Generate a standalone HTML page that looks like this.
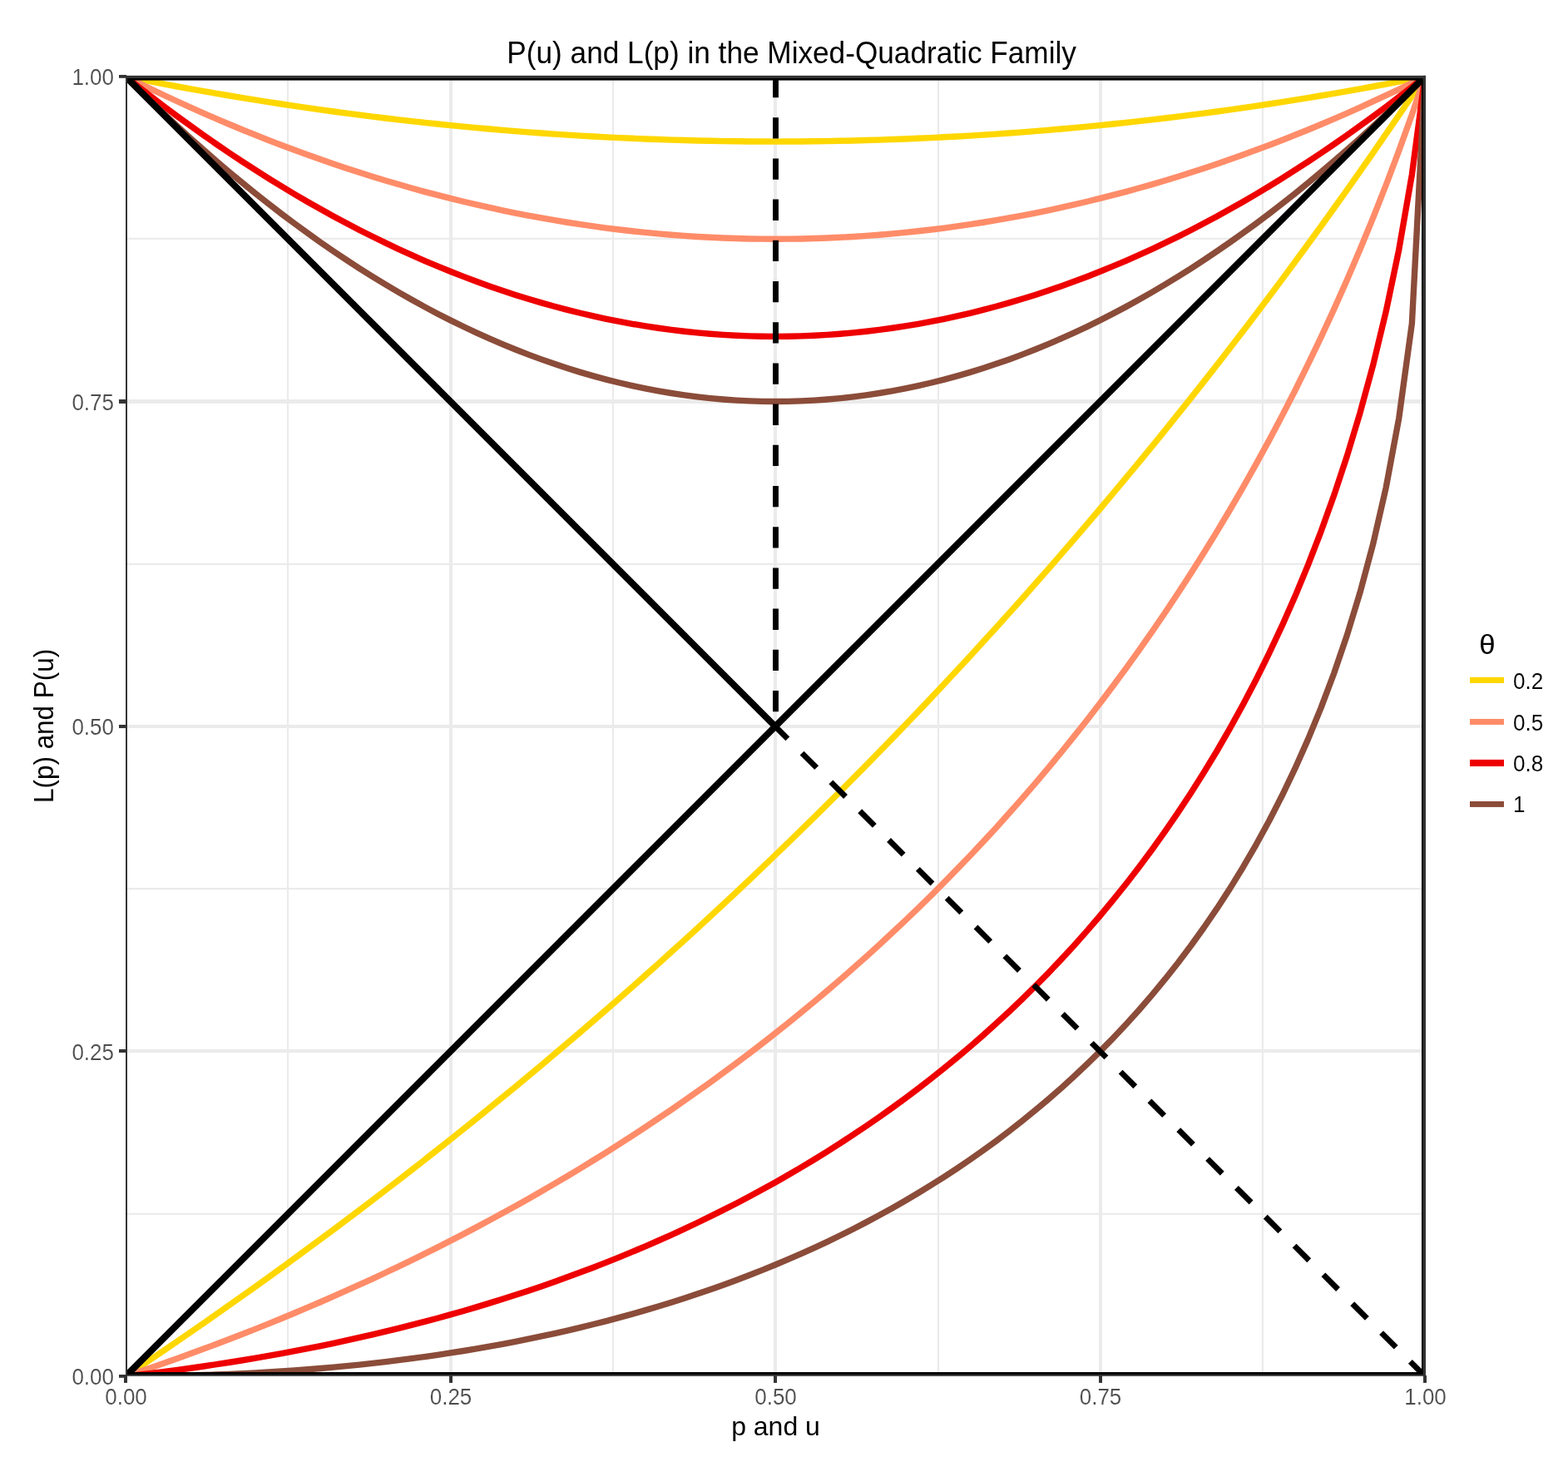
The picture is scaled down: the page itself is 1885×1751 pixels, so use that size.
<!DOCTYPE html>
<html lang="en"><head><meta charset="utf-8">
<title>P(u) and L(p) in the Mixed-Quadratic Family</title>
<style>
html,body{margin:0;padding:0;background:#fff;}
body{width:1885px;height:1751px;overflow:hidden;}
svg{display:block;}
text{font-family:"Liberation Sans",sans-serif;}
.tk{font-size:26.4px;fill:#4D4D4D;stroke:#fff;stroke-width:0.15px;}
.ax{font-size:32px;fill:#000;}
.ti{font-size:35.2px;fill:#000;}
.lg{font-size:26.4px;fill:#000;stroke:#fff;stroke-width:0.12px;}
.lt{font-size:32px;fill:#000;}
</style></head><body>
<svg width="1885" height="1751" viewBox="0 0 1885 1751">
<rect x="0" y="0" width="1885" height="1751" fill="#fff"/>
<defs><clipPath id="panel"><rect x="152" y="92" width="1561.00" height="1561.00"/></clipPath></defs>
<g clip-path="url(#panel)">
<g fill="#EBEBEB" stroke="none">
<rect x="344.90" y="92.00" width="2.20" height="1562.00"/>
<rect x="735.90" y="92.00" width="2.20" height="1562.00"/>
<rect x="1126.90" y="92.00" width="2.20" height="1562.00"/>
<rect x="1516.80" y="92.00" width="2.20" height="1562.00"/>
<rect x="151.00" y="1457.85" width="1562.00" height="2.20"/>
<rect x="151.00" y="1066.95" width="1562.00" height="2.20"/>
<rect x="151.00" y="676.85" width="1562.00" height="2.20"/>
<rect x="151.00" y="285.70" width="1562.00" height="2.20"/>
<rect x="149.00" y="92.00" width="4.00" height="1562.00"/>
<rect x="540.05" y="92.00" width="3.95" height="1562.00"/>
<rect x="930.00" y="92.00" width="4.00" height="1562.00"/>
<rect x="1321.05" y="92.00" width="3.95" height="1562.00"/>
<rect x="1711.00" y="92.00" width="4.00" height="1562.00"/>
<rect x="151.00" y="1652.00" width="1562.00" height="3.80"/>
<rect x="151.00" y="1261.00" width="1562.00" height="4.05"/>
<rect x="151.00" y="871.00" width="1562.00" height="4.05"/>
<rect x="151.00" y="480.00" width="1562.00" height="4.95"/>
<rect x="151.00" y="90.00" width="1562.00" height="3.80"/>
</g>
<g fill="none" stroke-width="7.40" stroke-linejoin="round" stroke-linecap="butt">
<path d="M151.00 1654.00 L166.62 1643.55 L182.24 1633.03 L197.86 1622.43 L213.48 1611.76 L229.10 1601.02 L244.72 1590.20 L260.34 1579.30 L275.96 1568.33 L291.58 1557.28 L307.20 1546.15 L322.82 1534.94 L338.44 1523.65 L354.06 1512.28 L369.68 1500.84 L385.30 1489.31 L400.92 1477.69 L416.54 1466.00 L432.16 1454.22 L447.78 1442.36 L463.40 1430.41 L479.02 1418.37 L494.64 1406.25 L510.26 1394.04 L525.88 1381.74 L541.50 1369.35 L557.12 1356.87 L572.74 1344.30 L588.36 1331.63 L603.98 1318.88 L619.60 1306.03 L635.22 1293.08 L650.84 1280.04 L666.46 1266.90 L682.08 1253.66 L697.70 1240.33 L713.32 1226.89 L728.94 1213.35 L744.56 1199.72 L760.18 1185.97 L775.80 1172.13 L791.42 1158.18 L807.04 1144.12 L822.66 1129.95 L838.28 1115.68 L853.90 1101.29 L869.52 1086.79 L885.14 1072.18 L900.76 1057.46 L916.38 1042.62 L932.00 1027.67 L947.62 1012.60 L963.24 997.40 L978.86 982.09 L994.48 966.66 L1010.10 951.10 L1025.72 935.42 L1041.34 919.61 L1056.96 903.67 L1072.58 887.60 L1088.20 871.41 L1103.82 855.08 L1119.44 838.61 L1135.06 822.01 L1150.68 805.27 L1166.30 788.39 L1181.92 771.37 L1197.54 754.20 L1213.16 736.89 L1228.78 719.44 L1244.40 701.83 L1260.02 684.07 L1275.64 666.16 L1291.26 648.09 L1306.88 629.87 L1322.50 611.48 L1338.12 592.94 L1353.74 574.22 L1369.36 555.35 L1384.98 536.30 L1400.60 517.08 L1416.22 497.68 L1431.84 478.11 L1447.46 458.36 L1463.08 438.42 L1478.70 418.30 L1494.32 397.99 L1509.94 377.49 L1525.56 356.79 L1541.18 335.90 L1556.80 314.80 L1572.42 293.51 L1588.04 272.00 L1603.66 250.28 L1619.28 228.34 L1634.90 206.19 L1650.52 183.81 L1666.14 161.21 L1681.76 138.38 L1697.38 115.31 L1713.00 92.00" stroke="#FFD700"/>
<path d="M151.00 1654.00 L166.62 1648.75 L182.24 1643.40 L197.86 1637.96 L213.48 1632.42 L229.10 1626.78 L244.72 1621.05 L260.34 1615.21 L275.96 1609.27 L291.58 1603.23 L307.20 1597.09 L322.82 1590.83 L338.44 1584.47 L354.06 1578.00 L369.68 1571.42 L385.30 1564.73 L400.92 1557.92 L416.54 1550.99 L432.16 1543.95 L447.78 1536.79 L463.40 1529.50 L479.02 1522.09 L494.64 1514.55 L510.26 1506.89 L525.88 1499.09 L541.50 1491.16 L557.12 1483.10 L572.74 1474.90 L588.36 1466.56 L603.98 1458.08 L619.60 1449.45 L635.22 1440.68 L650.84 1431.75 L666.46 1422.67 L682.08 1413.44 L697.70 1404.05 L713.32 1394.49 L728.94 1384.78 L744.56 1374.89 L760.18 1364.83 L775.80 1354.59 L791.42 1344.18 L807.04 1333.58 L822.66 1322.80 L838.28 1311.83 L853.90 1300.66 L869.52 1289.29 L885.14 1277.72 L900.76 1265.94 L916.38 1253.95 L932.00 1241.74 L947.62 1229.30 L963.24 1216.64 L978.86 1203.74 L994.48 1190.60 L1010.10 1177.22 L1025.72 1163.58 L1041.34 1149.68 L1056.96 1135.51 L1072.58 1121.07 L1088.20 1106.35 L1103.82 1091.33 L1119.44 1076.02 L1135.06 1060.40 L1150.68 1044.46 L1166.30 1028.20 L1181.92 1011.60 L1197.54 994.65 L1213.16 977.34 L1228.78 959.65 L1244.40 941.59 L1260.02 923.12 L1275.64 904.24 L1291.26 884.93 L1306.88 865.18 L1322.50 844.96 L1338.12 824.27 L1353.74 803.07 L1369.36 781.35 L1384.98 759.08 L1400.60 736.25 L1416.22 712.82 L1431.84 688.76 L1447.46 664.05 L1463.08 638.65 L1478.70 612.52 L1494.32 585.63 L1509.94 557.92 L1525.56 529.36 L1541.18 499.89 L1556.80 469.44 L1572.42 437.96 L1588.04 405.38 L1603.66 371.60 L1619.28 336.54 L1634.90 300.08 L1650.52 262.12 L1666.14 222.51 L1681.76 181.09 L1697.38 137.66 L1713.00 92.00" stroke="#FF8C69"/>
<path d="M151.00 1654.00 L166.62 1652.22 L182.24 1650.36 L197.86 1648.40 L213.48 1646.36 L229.10 1644.22 L244.72 1642.00 L260.34 1639.68 L275.96 1637.26 L291.58 1634.75 L307.20 1632.13 L322.82 1629.42 L338.44 1626.61 L354.06 1623.69 L369.68 1620.67 L385.30 1617.54 L400.92 1614.30 L416.54 1610.95 L432.16 1607.48 L447.78 1603.91 L463.40 1600.21 L479.02 1596.40 L494.64 1592.46 L510.26 1588.40 L525.88 1584.22 L541.50 1579.90 L557.12 1575.46 L572.74 1570.88 L588.36 1566.16 L603.98 1561.31 L619.60 1556.31 L635.22 1551.17 L650.84 1545.88 L666.46 1540.44 L682.08 1534.84 L697.70 1529.08 L713.32 1523.17 L728.94 1517.08 L744.56 1510.83 L760.18 1504.40 L775.80 1497.80 L791.42 1491.01 L807.04 1484.04 L822.66 1476.88 L838.28 1469.52 L853.90 1461.95 L869.52 1454.18 L885.14 1446.20 L900.76 1438.00 L916.38 1429.58 L932.00 1420.92 L947.62 1412.03 L963.24 1402.89 L978.86 1393.49 L994.48 1383.84 L1010.10 1373.92 L1025.72 1363.72 L1041.34 1353.23 L1056.96 1342.45 L1072.58 1331.36 L1088.20 1319.95 L1103.82 1308.21 L1119.44 1296.13 L1135.06 1283.70 L1150.68 1270.90 L1166.30 1257.71 L1181.92 1244.12 L1197.54 1230.11 L1213.16 1215.67 L1228.78 1200.77 L1244.40 1185.40 L1260.02 1169.53 L1275.64 1153.13 L1291.26 1136.18 L1306.88 1118.64 L1322.50 1100.50 L1338.12 1081.70 L1353.74 1062.21 L1369.36 1042.00 L1384.98 1021.00 L1400.60 999.17 L1416.22 976.45 L1431.84 952.77 L1447.46 928.06 L1463.08 902.22 L1478.70 875.17 L1494.32 846.78 L1509.94 816.92 L1525.56 785.44 L1541.18 752.14 L1556.80 716.80 L1572.42 679.14 L1588.04 638.81 L1603.66 595.37 L1619.28 548.23 L1634.90 496.58 L1650.52 439.31 L1666.14 374.69 L1681.76 299.92 L1697.38 209.79 L1713.00 92.00" stroke="#EE0000"/>
<path d="M151.00 1654.00 L166.62 1653.96 L182.24 1653.84 L197.86 1653.64 L213.48 1653.36 L229.10 1653.00 L244.72 1652.55 L260.34 1652.02 L275.96 1651.40 L291.58 1650.69 L307.20 1649.89 L322.82 1649.00 L338.44 1648.01 L354.06 1646.93 L369.68 1645.76 L385.30 1644.49 L400.92 1643.11 L416.54 1641.64 L432.16 1640.06 L447.78 1638.38 L463.40 1636.59 L479.02 1634.69 L494.64 1632.68 L510.26 1630.56 L525.88 1628.32 L541.50 1625.96 L557.12 1623.49 L572.74 1620.89 L588.36 1618.16 L603.98 1615.31 L619.60 1612.33 L635.22 1609.21 L650.84 1605.96 L666.46 1602.56 L682.08 1599.03 L697.70 1595.35 L713.32 1591.52 L728.94 1587.54 L744.56 1583.40 L760.18 1579.10 L775.80 1574.64 L791.42 1570.01 L807.04 1565.21 L822.66 1560.23 L838.28 1555.07 L853.90 1549.72 L869.52 1544.18 L885.14 1538.45 L900.76 1532.51 L916.38 1526.36 L932.00 1520.00 L947.62 1513.42 L963.24 1506.61 L978.86 1499.57 L994.48 1492.28 L1010.10 1484.74 L1025.72 1476.95 L1041.34 1468.88 L1056.96 1460.54 L1072.58 1451.92 L1088.20 1442.99 L1103.82 1433.76 L1119.44 1424.20 L1135.06 1414.32 L1150.68 1404.08 L1166.30 1393.48 L1181.92 1382.51 L1197.54 1371.14 L1213.16 1359.36 L1228.78 1347.15 L1244.40 1334.49 L1260.02 1321.35 L1275.64 1307.71 L1291.26 1293.54 L1306.88 1278.81 L1322.50 1263.50 L1338.12 1247.56 L1353.74 1230.96 L1369.36 1213.65 L1384.98 1195.58 L1400.60 1176.70 L1416.22 1156.94 L1431.84 1136.24 L1447.46 1114.52 L1463.08 1091.68 L1478.70 1067.62 L1494.32 1042.21 L1509.94 1015.31 L1525.56 986.75 L1541.18 956.29 L1556.80 923.70 L1572.42 888.62 L1588.04 850.64 L1603.66 809.19 L1619.28 763.50 L1634.90 712.45 L1650.52 654.32 L1666.14 586.23 L1681.76 502.56 L1697.38 388.78 L1713.00 92.00" stroke="#8B4C39"/>
<path d="M151.00 92.00 L166.62 95.09 L182.24 98.12 L197.86 101.09 L213.48 104.00 L229.10 106.84 L244.72 109.62 L260.34 112.34 L275.96 114.99 L291.58 117.59 L307.20 120.12 L322.82 122.58 L338.44 124.99 L354.06 127.33 L369.68 129.61 L385.30 131.83 L400.92 133.99 L416.54 136.08 L432.16 138.11 L447.78 140.08 L463.40 141.98 L479.02 143.83 L494.64 145.61 L510.26 147.33 L525.88 148.98 L541.50 150.58 L557.12 152.11 L572.74 153.57 L588.36 154.98 L603.98 156.32 L619.60 157.60 L635.22 158.82 L650.84 159.98 L666.46 161.07 L682.08 162.10 L697.70 163.07 L713.32 163.98 L728.94 164.82 L744.56 165.60 L760.18 166.32 L775.80 166.98 L791.42 167.57 L807.04 168.10 L822.66 168.57 L838.28 168.98 L853.90 169.32 L869.52 169.60 L885.14 169.82 L900.76 169.98 L916.38 170.07 L932.00 170.10 L947.62 170.07 L963.24 169.98 L978.86 169.82 L994.48 169.60 L1010.10 169.32 L1025.72 168.98 L1041.34 168.57 L1056.96 168.10 L1072.58 167.57 L1088.20 166.98 L1103.82 166.32 L1119.44 165.60 L1135.06 164.82 L1150.68 163.98 L1166.30 163.07 L1181.92 162.10 L1197.54 161.07 L1213.16 159.98 L1228.78 158.82 L1244.40 157.60 L1260.02 156.32 L1275.64 154.98 L1291.26 153.57 L1306.88 152.11 L1322.50 150.58 L1338.12 148.98 L1353.74 147.33 L1369.36 145.61 L1384.98 143.83 L1400.60 141.98 L1416.22 140.08 L1431.84 138.11 L1447.46 136.08 L1463.08 133.99 L1478.70 131.83 L1494.32 129.61 L1509.94 127.33 L1525.56 124.99 L1541.18 122.58 L1556.80 120.12 L1572.42 117.59 L1588.04 114.99 L1603.66 112.34 L1619.28 109.62 L1634.90 106.84 L1650.52 104.00 L1666.14 101.09 L1681.76 98.12 L1697.38 95.09 L1713.00 92.00" stroke="#FFD700"/>
<path d="M151.00 92.00 L166.62 99.73 L182.24 107.31 L197.86 114.73 L213.48 121.99 L229.10 129.10 L244.72 136.05 L260.34 142.84 L275.96 149.48 L291.58 155.96 L307.20 162.29 L322.82 168.46 L338.44 174.47 L354.06 180.33 L369.68 186.03 L385.30 191.58 L400.92 196.97 L416.54 202.20 L432.16 207.28 L447.78 212.20 L463.40 216.96 L479.02 221.57 L494.64 226.02 L510.26 230.32 L525.88 234.45 L541.50 238.44 L557.12 242.26 L572.74 245.94 L588.36 249.45 L603.98 252.81 L619.60 256.01 L635.22 259.06 L650.84 261.95 L666.46 264.68 L682.08 267.26 L697.70 269.68 L713.32 271.94 L728.94 274.05 L744.56 276.00 L760.18 277.80 L775.80 279.44 L791.42 280.92 L807.04 282.25 L822.66 283.42 L838.28 284.44 L853.90 285.30 L869.52 286.00 L885.14 286.55 L900.76 286.94 L916.38 287.17 L932.00 287.25 L947.62 287.17 L963.24 286.94 L978.86 286.55 L994.48 286.00 L1010.10 285.30 L1025.72 284.44 L1041.34 283.42 L1056.96 282.25 L1072.58 280.92 L1088.20 279.44 L1103.82 277.80 L1119.44 276.00 L1135.06 274.05 L1150.68 271.94 L1166.30 269.68 L1181.92 267.26 L1197.54 264.68 L1213.16 261.95 L1228.78 259.06 L1244.40 256.01 L1260.02 252.81 L1275.64 249.45 L1291.26 245.94 L1306.88 242.26 L1322.50 238.44 L1338.12 234.45 L1353.74 230.32 L1369.36 226.02 L1384.98 221.57 L1400.60 216.96 L1416.22 212.20 L1431.84 207.28 L1447.46 202.20 L1463.08 196.97 L1478.70 191.58 L1494.32 186.03 L1509.94 180.33 L1525.56 174.47 L1541.18 168.46 L1556.80 162.29 L1572.42 155.96 L1588.04 149.48 L1603.66 142.84 L1619.28 136.05 L1634.90 129.10 L1650.52 121.99 L1666.14 114.73 L1681.76 107.31 L1697.38 99.73 L1713.00 92.00" stroke="#FF8C69"/>
<path d="M151.00 92.00 L166.62 104.37 L182.24 116.49 L197.86 128.36 L213.48 139.98 L229.10 151.36 L244.72 162.48 L260.34 173.35 L275.96 183.97 L291.58 194.34 L307.20 204.46 L322.82 214.34 L338.44 223.96 L354.06 233.33 L369.68 242.45 L385.30 251.32 L400.92 259.95 L416.54 268.32 L432.16 276.44 L447.78 284.31 L463.40 291.94 L479.02 299.31 L494.64 306.43 L510.26 313.30 L525.88 319.93 L541.50 326.30 L557.12 332.42 L572.74 338.30 L588.36 343.92 L603.98 349.29 L619.60 354.42 L635.22 359.29 L650.84 363.91 L666.46 368.29 L682.08 372.41 L697.70 376.28 L713.32 379.91 L728.94 383.28 L744.56 386.41 L760.18 389.28 L775.80 391.90 L791.42 394.28 L807.04 396.40 L822.66 398.28 L838.28 399.90 L853.90 401.28 L869.52 402.40 L885.14 403.28 L900.76 403.90 L916.38 404.28 L932.00 404.40 L947.62 404.28 L963.24 403.90 L978.86 403.28 L994.48 402.40 L1010.10 401.28 L1025.72 399.90 L1041.34 398.28 L1056.96 396.40 L1072.58 394.28 L1088.20 391.90 L1103.82 389.28 L1119.44 386.41 L1135.06 383.28 L1150.68 379.91 L1166.30 376.28 L1181.92 372.41 L1197.54 368.29 L1213.16 363.91 L1228.78 359.29 L1244.40 354.42 L1260.02 349.29 L1275.64 343.92 L1291.26 338.30 L1306.88 332.42 L1322.50 326.30 L1338.12 319.93 L1353.74 313.30 L1369.36 306.43 L1384.98 299.31 L1400.60 291.94 L1416.22 284.31 L1431.84 276.44 L1447.46 268.32 L1463.08 259.95 L1478.70 251.32 L1494.32 242.45 L1509.94 233.33 L1525.56 223.96 L1541.18 214.34 L1556.80 204.46 L1572.42 194.34 L1588.04 183.97 L1603.66 173.35 L1619.28 162.48 L1634.90 151.36 L1650.52 139.98 L1666.14 128.36 L1681.76 116.49 L1697.38 104.37 L1713.00 92.00" stroke="#EE0000"/>
<path d="M151.00 92.00 L166.62 107.46 L182.24 122.62 L197.86 137.45 L213.48 151.98 L229.10 166.19 L244.72 180.10 L260.34 193.69 L275.96 206.96 L291.58 219.93 L307.20 232.58 L322.82 244.92 L338.44 256.95 L354.06 268.66 L369.68 280.06 L385.30 291.15 L400.92 301.93 L416.54 312.40 L432.16 322.55 L447.78 332.39 L463.40 341.92 L479.02 351.14 L494.64 360.04 L510.26 368.63 L525.88 376.91 L541.50 384.88 L557.12 392.53 L572.74 399.87 L588.36 406.90 L603.98 413.62 L619.60 420.02 L635.22 426.11 L650.84 431.89 L666.46 437.36 L682.08 442.51 L697.70 447.36 L713.32 451.88 L728.94 456.10 L744.56 460.01 L760.18 463.60 L775.80 466.88 L791.42 469.85 L807.04 472.50 L822.66 474.85 L838.28 476.88 L853.90 478.60 L869.52 480.00 L885.14 481.09 L900.76 481.88 L916.38 482.34 L932.00 482.50 L947.62 482.34 L963.24 481.88 L978.86 481.09 L994.48 480.00 L1010.10 478.60 L1025.72 476.88 L1041.34 474.85 L1056.96 472.50 L1072.58 469.85 L1088.20 466.88 L1103.82 463.60 L1119.44 460.01 L1135.06 456.10 L1150.68 451.88 L1166.30 447.36 L1181.92 442.51 L1197.54 437.36 L1213.16 431.89 L1228.78 426.11 L1244.40 420.02 L1260.02 413.62 L1275.64 406.90 L1291.26 399.87 L1306.88 392.53 L1322.50 384.88 L1338.12 376.91 L1353.74 368.63 L1369.36 360.04 L1384.98 351.14 L1400.60 341.92 L1416.22 332.39 L1431.84 322.55 L1447.46 312.40 L1463.08 301.93 L1478.70 291.15 L1494.32 280.06 L1509.94 268.66 L1525.56 256.95 L1541.18 244.92 L1556.80 232.58 L1572.42 219.93 L1588.04 206.96 L1603.66 193.69 L1619.28 180.10 L1634.90 166.20 L1650.52 151.98 L1666.14 137.45 L1681.76 122.62 L1697.38 107.46 L1713.00 92.00" stroke="#8B4C39"/>
</g>
<g fill="none" stroke="#000" stroke-linecap="butt" stroke-linejoin="round">
<path d="M151.00 1654.00 L1713.00 92.00" stroke-width="8.00"/>
<path d="M151.00 92.00 L932.00 873.00" stroke-width="8.00"/>
<rect x="151.00" y="90.00" width="1564.00" height="6.60" fill="#000" stroke="none"/>
<rect x="151.00" y="1649.00" width="1564.00" height="6.00" fill="#000" stroke="none"/>
<rect x="1709.00" y="90.00" width="6.00" height="1566.00" fill="#000" stroke="none"/>
<path d="M932.50 92.00 L932.50 873.00" stroke-width="6.90" stroke-dasharray="25.3 23.9"/>
<path d="M1713.00 1654.00 L932.00 873.00" stroke-width="6.90" stroke-dasharray="24.9 24.35"/>
</g>
</g>
<g fill="#333333">
<rect x="151" y="90.85" width="1563.00" height="3.25"/>
<rect x="151" y="1651.9" width="1563.00" height="1.90"/>
<rect x="151" y="90.85" width="2.00" height="1562.95"/>
<rect x="1710.8" y="90.85" width="3.20" height="1562.95"/>
</g>
<g fill="#333333">
<rect x="143.0" y="1652.00" width="9.00" height="3.80"/>
<rect x="143.0" y="1261.00" width="9.00" height="4.05"/>
<rect x="143.0" y="871.00" width="9.00" height="4.05"/>
<rect x="143.0" y="480.00" width="9.00" height="4.95"/>
<rect x="143.0" y="90.00" width="9.00" height="3.80"/>
<rect x="149.00" y="1653.0" width="4.00" height="8.90"/>
<rect x="540.05" y="1653.0" width="3.95" height="8.90"/>
<rect x="930.00" y="1653.0" width="4.00" height="8.90"/>
<rect x="1321.05" y="1653.0" width="3.95" height="8.90"/>
<rect x="1711.00" y="1653.0" width="4.00" height="8.90"/>
</g>
<text class="tk" transform="translate(137.00 1664.10) scale(0.9850 1.0450)" text-anchor="end">0.00</text>
<text class="tk" transform="translate(137.00 1273.60) scale(0.9850 1.0450)" text-anchor="end">0.25</text>
<text class="tk" transform="translate(137.00 883.10) scale(0.9850 1.0450)" text-anchor="end">0.50</text>
<text class="tk" transform="translate(137.00 492.60) scale(0.9850 1.0450)" text-anchor="end">0.75</text>
<text class="tk" transform="translate(137.00 102.10) scale(0.9850 1.0450)" text-anchor="end">1.00</text>
<text class="tk" transform="translate(151.50 1687.70) scale(0.9850 1.0450)" text-anchor="middle">0.00</text>
<text class="tk" transform="translate(542.00 1687.70) scale(0.9850 1.0450)" text-anchor="middle">0.25</text>
<text class="tk" transform="translate(932.50 1687.70) scale(0.9850 1.0450)" text-anchor="middle">0.50</text>
<text class="tk" transform="translate(1323.00 1687.70) scale(0.9850 1.0450)" text-anchor="middle">0.75</text>
<text class="tk" transform="translate(1713.50 1687.70) scale(0.9850 1.0450)" text-anchor="middle">1.00</text>
<text class="ti" transform="translate(951.60 75.80) scale(1.0000 1.0400)" text-anchor="middle">P(u) and L(p) in the Mixed-Quadratic Family</text>
<text class="ax" transform="translate(932.50 1725.20)" text-anchor="middle">p and u</text>
<text class="ax" transform="translate(64.00 872.40) rotate(-90) scale(0.9830 1.0500)" text-anchor="middle">L(p) and P(u)</text>
<text class="lt" transform="translate(1788.00 785.60) scale(1.0870 1.0480)" text-anchor="middle">θ</text>
<rect x="1767" y="813.80" width="41" height="7.20" fill="#FFD700"/>
<text class="lg" transform="translate(1818.90 827.50) scale(0.9900 1.0300)" text-anchor="start">0.2</text>
<rect x="1767" y="863.95" width="41" height="7.05" fill="#FF8C69"/>
<text class="lg" transform="translate(1818.90 877.50) scale(0.9900 1.0300)" text-anchor="start">0.5</text>
<rect x="1767" y="912.90" width="41" height="8.05" fill="#EE0000"/>
<text class="lg" transform="translate(1818.90 926.70) scale(0.9900 1.0300)" text-anchor="start">0.8</text>
<rect x="1767" y="963.00" width="41" height="6.95" fill="#8B4C39"/>
<text class="lg" transform="translate(1818.90 976.00) scale(0.9900 1.0300)" text-anchor="start">1</text>
</svg>
</body></html>
